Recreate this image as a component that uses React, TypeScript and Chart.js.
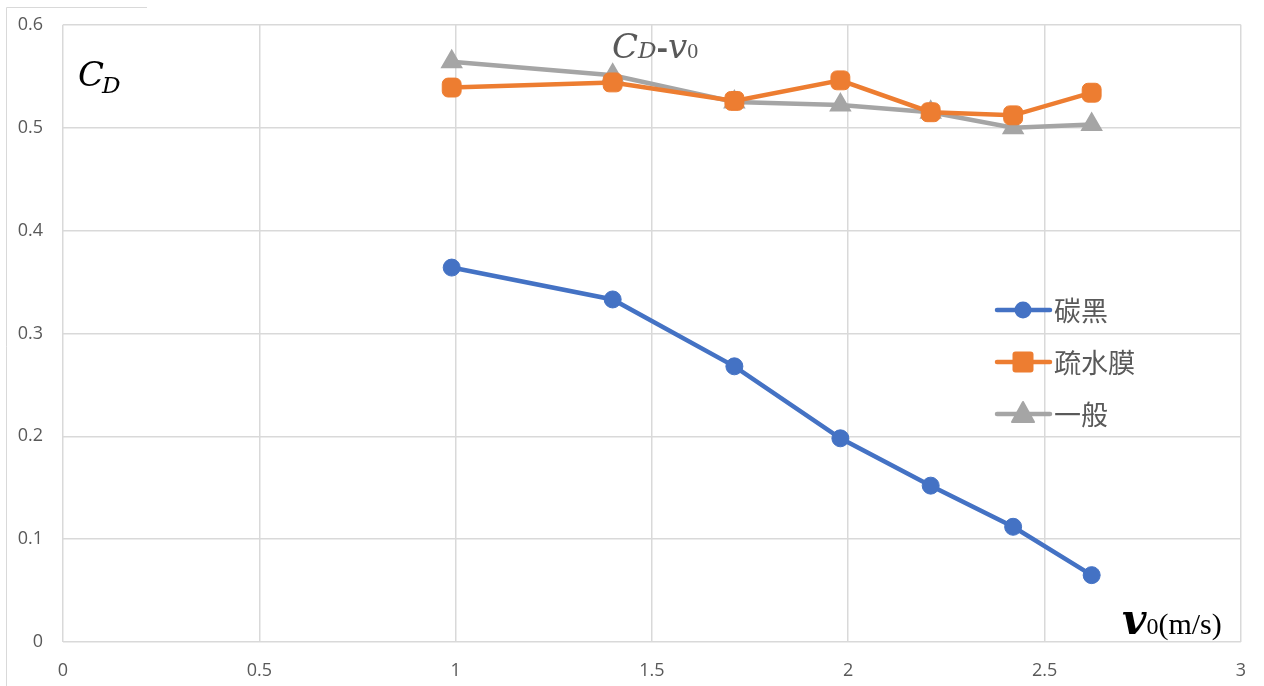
import React, { useEffect, useRef } from "react";
import { Chart, registerables } from "chart.js";

Chart.register(...registerables);

const xValues = [0.99, 1.4, 1.71, 1.98, 2.21, 2.42, 2.62];
const carbonBlack = [0.364, 0.333, 0.268, 0.198, 0.152, 0.112, 0.065];
const hydrophobic = [0.539, 0.544, 0.526, 0.546, 0.515, 0.512, 0.534];
const normal = [0.564, 0.551, 0.525, 0.522, 0.515, 0.5, 0.503];
const seriesNames = ["碳黑", "疏水膜", "一般"];
const seriesColors = ["#4472C4", "#ED7D31", "#A5A5A5"];
const seriesShapes = ["circle", "rectRounded", "triangle"];
const seriesRadius = [8.5, 11, 11];

const OY = 6; // canvas is shifted up by this many pixels

const toPoints = (ys: number[]) => xValues.map((x, i) => ({ x, y: ys[i] }));

const overlayPlugin = {
  id: "overlay",
  beforeDraw(chart: any) {
    const ctx = chart.ctx;
    ctx.save();
    ctx.translate(0, OY);
    ctx.strokeStyle = "#D9D9D9";
    ctx.lineWidth = 1;
    ctx.beginPath();
    ctx.moveTo(6.5, 686);
    ctx.lineTo(6.5, 7.5);
    ctx.lineTo(147, 7.5);
    ctx.stroke();
    ctx.restore();
  },
  afterDraw(chart: any) {
    const ctx = chart.ctx;
    ctx.save();
    ctx.translate(0, OY);
    ctx.textBaseline = "alphabetic";
    // C_D label
    ctx.fillStyle = "#000000";
    ctx.font = "italic 34px 'DejaVu Serif', serif";
    ctx.fillText("C", 78, 86);
    ctx.font = "italic 23px 'DejaVu Serif', serif";
    ctx.fillText("D", 102, 93);

    // Title C_D - v0
    ctx.fillStyle = "#595959";
    let x = 612;
    const by = 58;
    ctx.font = "italic 34px 'DejaVu Serif', serif";
    ctx.fillText("C", x, by);
    x += ctx.measureText("C").width;
    ctx.font = "italic 23px 'DejaVu Serif', serif";
    ctx.fillText("D", x, by);
    x += ctx.measureText("D").width;
    ctx.font = "bold 28px 'DejaVu Serif', serif";
    ctx.fillText("-", x, by);
    x += ctx.measureText("-").width;
    ctx.font = "italic 34px 'DejaVu Serif', serif";
    ctx.fillText("v", x, by);
    x += ctx.measureText("v").width;
    ctx.font = "22px 'Liberation Serif', serif";
    ctx.fillText("0", x, by);

    // x-axis label v0(m/s)
    ctx.fillStyle = "#000000";
    x = 1122;
    const ly = 634;
    ctx.font = "bold italic 42px 'DejaVu Serif', serif";
    ctx.fillText("v", x, ly);
    x += ctx.measureText("v").width;
    ctx.font = "24px 'Liberation Serif', serif";
    ctx.fillText("0", x, ly);
    x += ctx.measureText("0").width;
    ctx.font = "30px 'Liberation Serif', serif";
    ctx.fillText("(m/s)", x, ly);

    // Legend
    const legendY = [310, 362, 414];
    for (let i = 0; i < 3; i++) {
      const y = legendY[i];
      ctx.strokeStyle = seriesColors[i];
      ctx.lineWidth = 4.5;
      ctx.lineCap = "round";
      ctx.beginPath();
      ctx.moveTo(997, y);
      ctx.lineTo(1050, y);
      ctx.stroke();
      ctx.fillStyle = seriesColors[i];
      const cx = 1023;
      if (i === 0) {
        ctx.beginPath();
        ctx.arc(cx, y, 8.5, 0, Math.PI * 2);
        ctx.fill();
      } else if (i === 1) {
        const s = 21;
        const r = 3;
        ctx.beginPath();
        ctx.moveTo(cx - s / 2 + r, y - s / 2);
        ctx.arcTo(cx + s / 2, y - s / 2, cx + s / 2, y + s / 2, r);
        ctx.arcTo(cx + s / 2, y + s / 2, cx - s / 2, y + s / 2, r);
        ctx.arcTo(cx - s / 2, y + s / 2, cx - s / 2, y - s / 2, r);
        ctx.arcTo(cx - s / 2, y - s / 2, cx + s / 2, y - s / 2, r);
        ctx.closePath();
        ctx.fill();
      } else {
        ctx.lineJoin = "round";
        ctx.lineWidth = 2;
        ctx.strokeStyle = seriesColors[i];
        ctx.beginPath();
        ctx.moveTo(cx, y - 12);
        ctx.lineTo(cx + 11, y + 8);
        ctx.lineTo(cx - 11, y + 8);
        ctx.closePath();
        ctx.fill();
        ctx.stroke();
      }
      ctx.fillStyle = "#595959";
      ctx.font = "27px 'Noto Sans CJK TC', sans-serif";
      ctx.textBaseline = "middle";
      ctx.fillText(seriesNames[i], 1054, y + 1);
      ctx.textBaseline = "alphabetic";
    }
    ctx.restore();
  },
};

export default function App() {
  const canvasRef = useRef<HTMLCanvasElement | null>(null);

  useEffect(() => {
    if (!canvasRef.current) return;
    const datasets = [carbonBlack, hydrophobic, normal].map((ys, i) => ({
      label: seriesNames[i],
      data: toPoints(ys),
      showLine: true,
      borderColor: seriesColors[i],
      backgroundColor: seriesColors[i],
      borderWidth: 4.5,
      pointStyle: seriesShapes[i] as any,
      pointRadius: seriesRadius[i],
      pointHoverRadius: seriesRadius[i],
      pointBorderWidth: i === 2 ? 2 : 1,
      pointBorderColor: seriesColors[i],
      pointBackgroundColor: seriesColors[i],
      tension: 0,
      clip: false as any,
    }));
    const fmt = (v: any) => String(Math.round(Number(v) * 10) / 10);
    const chart = new Chart(canvasRef.current, {
      type: "scatter",
      data: { datasets },
      plugins: [overlayPlugin],
      options: {
        animation: false,
        responsive: false,
        maintainAspectRatio: false,
        layout: { padding: { left: 0, right: 23, top: 16, bottom: 0 } },
        plugins: {
          legend: { display: false },
          tooltip: { enabled: false },
          title: { display: false },
        },
        scales: {
          x: {
            type: "linear",
            min: 0,
            max: 3,
            ticks: {
              stepSize: 0.5,
              color: "#595959",
              font: { family: "'Open Sans', sans-serif", size: 18 },
              padding: 18,
              maxRotation: 0,
              callback: fmt,
            },
            grid: { color: "#D9D9D9", lineWidth: 1.5, drawTicks: false },
            border: { display: false },
            afterFit: (scale: any) => {
              scale.height = 44;
            },
          },
          y: {
            type: "linear",
            min: 0,
            max: 0.6,
            ticks: {
              stepSize: 0.1,
              color: "#595959",
              font: { family: "'Open Sans', sans-serif", size: 18 },
              padding: 20,
              callback: fmt,
            },
            grid: { color: "#D9D9D9", lineWidth: 1.5, drawTicks: false },
            border: { display: false },
            afterFit: (scale: any) => {
              scale.width = 63;
            },
          },
        },
      },
    });
    return () => chart.destroy();
  }, []);

  return (
    <div style={{ position: "fixed", left: 0, top: 0, width: 1264, height: 686, background: "#fff", overflow: "hidden" }}>
      <canvas
        ref={canvasRef}
        width={1264}
        height={686 + OY}
        style={{ position: "absolute", left: 0, top: -OY, width: 1264, height: 686 + OY, display: "block" }}
      />
    </div>
  );
}
